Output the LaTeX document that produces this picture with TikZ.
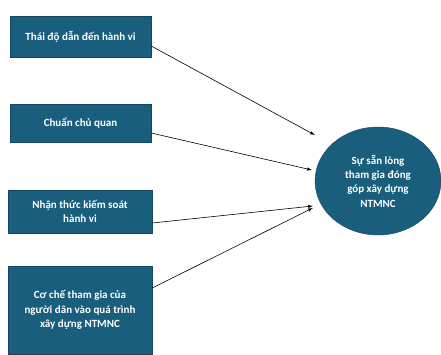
\documentclass[tikz,border=0pt]{standalone}
\usepackage{fontspec}
\setmainfont{Carlito}
\usetikzlibrary{shapes.geometric}
\definecolor{boxblue}{HTML}{1A5E7E}
\definecolor{boxline}{HTML}{17465F}

\begin{document}
\begin{tikzpicture}[x=1pt,y=1pt,font=\bfseries\fontsize{11}{14.3}\selectfont,
  factor/.style={draw=boxline,fill=boxblue,text=white,align=center,inner sep=2pt},
  arr/.style={-latex,black,semithick}]
\useasboundingbox (0,0) rectangle (441,354);
\node[factor,minimum width=141,minimum height=41] (b1) at (80.5,317.5) {Thái độ dẫn đến hành vi};
\node[factor,minimum width=141,minimum height=38] (b2) at (80.5,231) {Chuẩn chủ quan};
\node[factor,minimum width=144,minimum height=43] (b3) at (80,142.5) {Nhận thức kiếm soát\\hành vi};
\node[factor,minimum width=144,minimum height=88] (b4) at (80,44) {Cơ chế tham gia của\\người dân vào quá trình\\xây dựng NTMNC};
\node[ellipse,draw=boxline,fill=boxblue,text=white,align=center,minimum width=126,minimum height=108,inner sep=0pt] (e) at (378,173) {Sự sẵn lòng\\tham gia đóng\\góp xây dựng\\NTMNC};
\draw[arr] ([yshift=-9.5]b1.east) -- ([yshift=46]e.west);
\draw[arr] ([yshift=-10]b2.east) -- ([xshift=-3,yshift=11]e.west);
\draw[arr] ([yshift=-11.5]b3.east) -- ([xshift=-2,yshift=-25]e.west);
\draw[arr] ([yshift=22]b4.east) -- ([xshift=-2,yshift=-27]e.west);
\end{tikzpicture}
\end{document}
